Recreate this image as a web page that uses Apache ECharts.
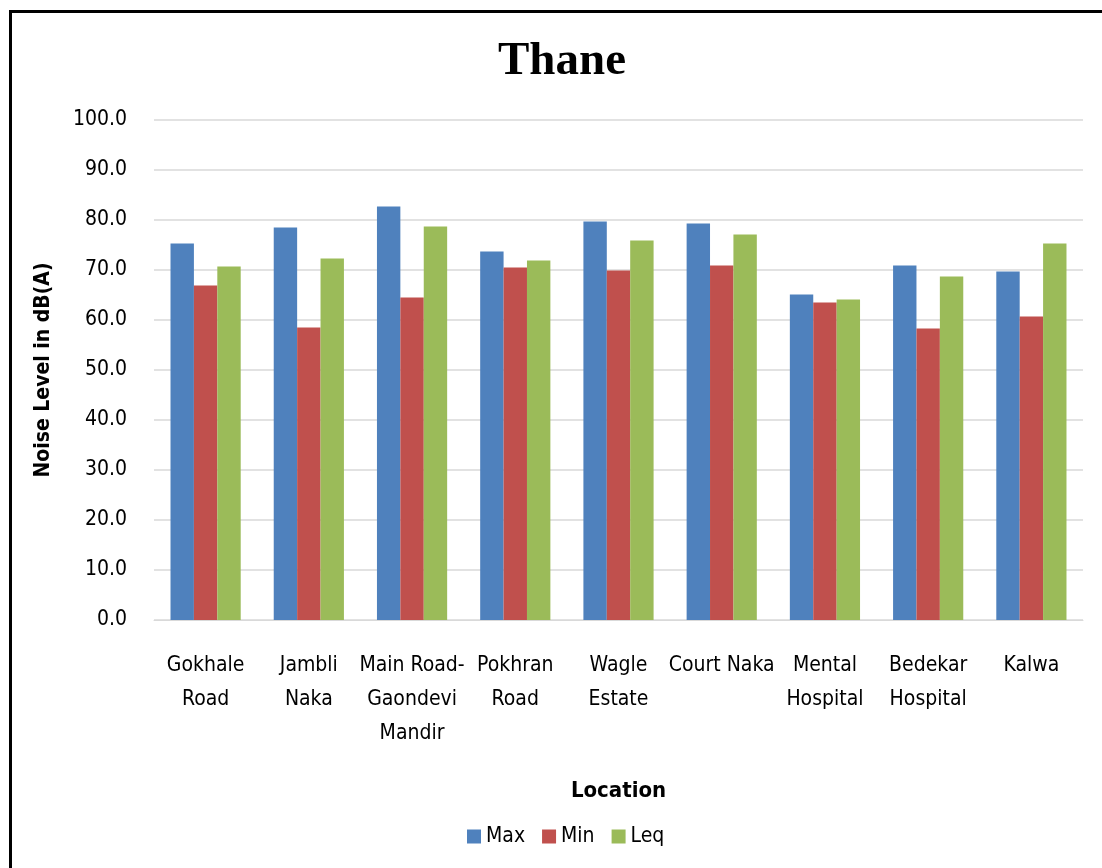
<!DOCTYPE html>
<html>
<head>
<meta charset="utf-8">
<script src="https://cdn.jsdelivr.net/npm/echarts@6/dist/echarts.min.js"></script>
<style>
html,body{margin:0;padding:0;background:#fff;}
#frame{position:absolute;left:9px;top:10px;width:1200px;height:1000px;border-left:3px solid #000;border-top:3px solid #000;box-sizing:border-box;}
#chart{position:absolute;left:0;top:0;width:1102px;height:868px;}
</style>
</head>
<body>
<div id="frame"></div>
<div id="chart"></div>
<script>
const categories = ["Gokhale\nRoad","Jambli\nNaka","Main Road-\nGaondevi\nMandir","Pokhran\nRoad","Wagle\nEstate","Court Naka","Mental\nHospital","Bedekar\nHospital","Kalwa"];
const maxValues = [75.3, 78.5, 82.7, 73.7, 79.7, 79.3, 65.1, 70.9, 69.7];
const minValues = [66.9, 58.5, 64.5, 70.5, 69.9, 70.9, 63.5, 58.3, 60.7];
const leqValues = [70.7, 72.3, 78.7, 71.9, 75.9, 77.1, 64.1, 68.7, 75.3];
const seriesNames = ["Max", "Min", "Leq"];
const colors = ["#4F81BD", "#C0504D", "#9BBB59"];

const font = "'DejaVu Sans Condensed','Liberation Sans Narrow','Arial Narrow',sans-serif";
const chart = echarts.init(document.getElementById('chart'), null, {renderer:'canvas'});
const data = [maxValues, minValues, leqValues];
chart.setOption({
  animation: false,
  backgroundColor: 'transparent',
  title: {
    text: 'Thane', left: 493, top: 33,
    textStyle: {fontFamily: "'Liberation Serif','Times New Roman',serif", fontWeight: 'bold', fontSize: 47, color: '#000'}
  },
  grid: {left: 154, right: 19, top: 120, bottom: 248, containLabel: false},
  legend: {
    data: seriesNames, top: 821, left: 462, itemWidth: 14, itemHeight: 14, itemGap: 17,
    icon: 'rect',
    textStyle: {fontFamily: font, fontSize: 21, color: '#000'}
  },
  xAxis: {
    type: 'category', data: categories,
    name: 'Location', nameLocation: 'middle', nameGap: 160,
    nameTextStyle: {fontFamily: font, fontWeight: 'bold', fontSize: 22, color: '#000'},
    axisLine: {lineStyle: {color: '#D9D9D9', width: 1}},
    axisTick: {show: false},
    axisLabel: {fontFamily: font, fontSize: 21, color: '#000', lineHeight: 34, margin: 29, interval: 0}
  },
  yAxis: {
    type: 'value', min: 0, max: 100, interval: 10,
    name: 'Noise Level in dB(A)', nameLocation: 'middle', nameGap: 100, nameRotate: 90,
    nameTextStyle: {fontFamily: font, fontWeight: 'bold', fontSize: 21, color: '#000'},
    axisLine: {show: false}, axisTick: {show: false},
    axisLabel: {fontFamily: font, fontSize: 21, color: '#000', margin: 27, formatter: v => v.toFixed(1)},
    splitLine: {lineStyle: {color: '#D9D9D9', width: 1.5}}
  },
  series: seriesNames.map((n, i) => ({
    name: n, type: 'bar', data: data[i], barGap: '0%', barCategoryGap: '32%',
    itemStyle: {color: colors[i]}
  }))
});
</script>
</body>
</html>
